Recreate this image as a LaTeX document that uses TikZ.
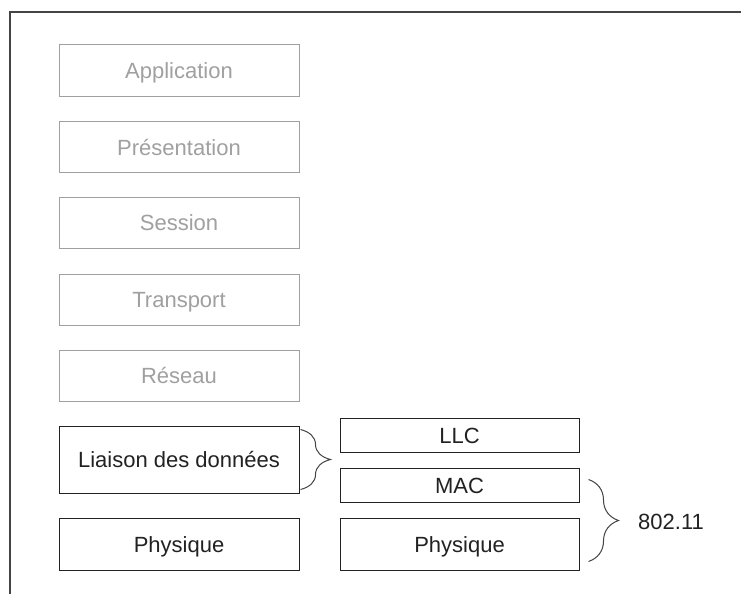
\documentclass[tikz,border=0pt]{standalone}
\usepackage{fontspec}
\setmainfont{Liberation Sans}
\usetikzlibrary{decorations.pathreplacing}
\definecolor{lgray}{HTML}{A0A0A0}
\definecolor{dgray}{HTML}{222222}
\definecolor{fgray}{HTML}{444444}
\tikzset{
  layer/.style={draw, rectangle, inner sep=0pt, line width=1pt, minimum width=240pt,
     font=\fontsize{22}{24}\selectfont, text height=16pt, text depth=0pt},
  oldlayer/.style={layer, draw=lgray, text=lgray, minimum height=51pt},
  newlayer/.style={layer, draw=dgray, text=dgray},
  bracestyle/.style={decorate, decoration={brace, amplitude=30pt}, draw=fgray, line width=1pt},
}
\begin{document}
\begin{tikzpicture}[x=1pt,y=-1pt]
\useasboundingbox (0,0) rectangle (741,594);
\fill[white] (0,0) rectangle (741,594);
\draw[fgray, line width=1.5pt] (741,12) -- (10,12) -- (10,594);

\node[oldlayer] (app) at (179,70.5) {Application};
\node[oldlayer] (pres) at (179,147) {Présentation};
\node[oldlayer] (sess) at (179,222.5) {Session};
\node[oldlayer] (trans) at (179,299.5) {Transport};
\node[oldlayer] (res) at (179,375.5) {Réseau};

\node[newlayer, minimum height=67pt] (liaison) at (179,459.5) {Liaison des données};
\node[newlayer, minimum height=52pt] (physL) at (179,544) {Physique};

\node[newlayer, minimum width=239pt, minimum height=34pt] (llc) at (459.5,435) {LLC};
\node[newlayer, minimum width=239pt, minimum height=34pt] (mac) at (459.5,485) {MAC};
\node[newlayer, minimum width=239pt, minimum height=52pt] (physR) at (459.5,544) {Physique};

\coordinate (b1top) at ([xshift=1pt,yshift=-4pt]liaison.north east);
\coordinate (b1bot) at ([xshift=1pt,yshift=4pt]liaison.south east);
\draw[bracestyle] (b1top) -- (b1bot);

\coordinate (b2top) at ([xshift=9pt,yshift=-12pt]mac.north east);
\coordinate (b2bot) at ([xshift=9pt,yshift=9pt]physR.south east);
\draw[bracestyle] (b2top) -- (b2bot);

\node[anchor=west, inner sep=0pt, font=\fontsize{22}{24}\selectfont, text=dgray,
      text height=16pt, text depth=0pt] (std) at (638,521) {802.11};
\end{tikzpicture}
\end{document}
